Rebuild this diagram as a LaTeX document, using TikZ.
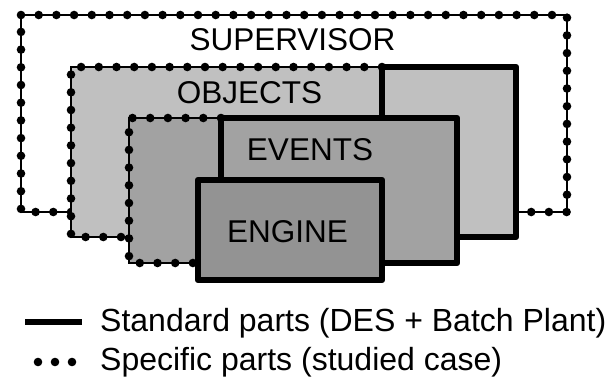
\documentclass[tikz,border=0pt]{standalone}
\usepackage{fontspec}
\setmainfont{Liberation Sans}
\usetikzlibrary{decorations.markings}
\begin{document}
\begin{tikzpicture}[x=1pt,y=-1pt,
  lbl/.style={font=\fontsize{31.5}{36}\selectfont, inner sep=0pt, anchor=base},
  legtext/.style={font=\fontsize{32}{36}\selectfont, inner sep=0pt, anchor=base west},
  thinline/.style={draw=black, line width=1.4pt},
  dotline/.style={postaction={decorate}, decoration={markings,
      mark=between positions 0 and 1 step 17.7pt with {\fill[black] (0,0) circle (4.3pt);}}},
  solidbox/.style={draw=black, line width=6.5pt, line join=round},
  objfill/.style={fill=objgray},
  evfill/.style={fill=evgray},
  engfill/.style={fill=enggray}
]
\definecolor{objgray}{HTML}{C0C0C0}
\definecolor{evgray}{HTML}{A2A2A2}
\definecolor{enggray}{HTML}{939393}
\useasboundingbox (0,0) rectangle (614,379);
\fill[white] (0,0) rectangle (614,379);

% SUPERVISOR (specific, dotted)
\draw[thinline, dotline] (21,15) -- (567,15) -- (567,212) -- (21,212) -- cycle;

% OBJECTS: dotted part + solid part
\fill[objfill] (71,67) rectangle (382,237);
\draw[thinline, dotline] (382,67) -- (71,67) -- (71,237) -- (382,237);
\filldraw[objfill, solidbox] (382,67) rectangle (516,237);

% EVENTS: dotted part + solid part
\fill[evfill] (129,118) rectangle (221,263);
\draw[thinline, dotline] (221,118) -- (129,118) -- (129,263) -- (221,263);
\filldraw[evfill, solidbox] (221,118) rectangle (457,263);

% ENGINE (standard, solid)
\filldraw[engfill, solidbox] (198,180) rectangle (382,280);

% Labels
\node[lbl] (sup) at (292.5,51) {SUPERVISOR};
\node[lbl] (obj) at (249.5,103.5) {OBJECTS};
\node[lbl] (ev) at (310,161) {EVENTS};
\node[lbl] (eng) at (287.5,242.5) {ENGINE};

% Legend
\coordinate (l1a) at (25,322);
\coordinate (l1b) at (82,322);
\draw[line width=6.5pt] (l1a) -- (l1b);
\node[legtext] (std) at (100,331.5) {Standard parts (DES + Batch Plant)};
\foreach \xx in {38,55,72} {
  \fill[black] (\xx,362) circle (4.3pt);
}
\node[legtext] (spec) at (100,371) {Specific parts (studied case)};
\end{tikzpicture}
\end{document}
